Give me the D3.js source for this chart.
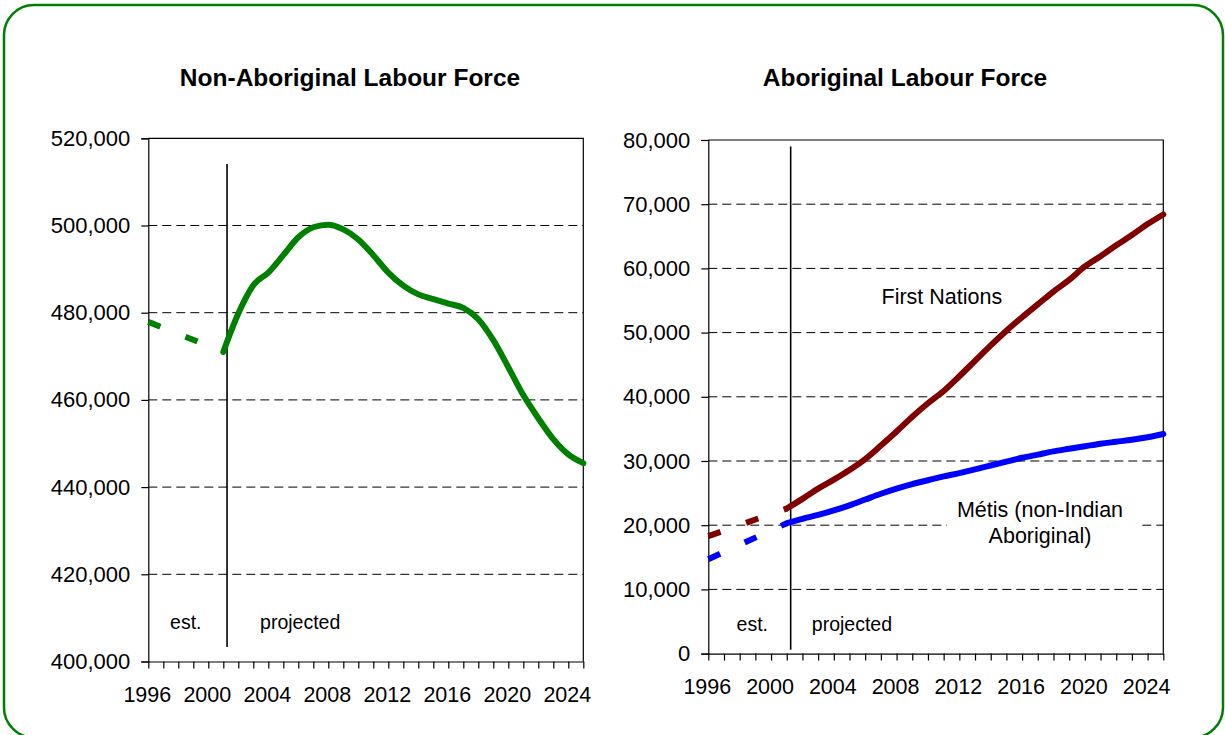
<!DOCTYPE html>
<html>
<head>
<meta charset="utf-8">
<script src="https://cdn.jsdelivr.net/npm/d3@7"></script>
<style>
  body { margin: 0; background: #fff; }
  svg { display: block; }
  text { font-family: "Liberation Sans", Arial, Helvetica, sans-serif; fill: #000; }
</style>
</head>
<body>
<svg id="chart" width="1225" height="735"></svg>
<script>
// ---- data ----
const axisYears = [1996,1997,1998,1999,2000,2001,2002,2003,2004,2005,2006,2007,2008,2009,2010,
                   2011,2012,2013,2014,2015,2016,2017,2018,2019,2020,2021,2022,2023,2024,2025];
const yearLabels = [1996, 2000, 2004, 2008, 2012, 2016, 2020, 2024];
const estYears = [1996, 2001];
const projYears = [2001,2002,2003,2004,2005,2006,2007,2008,2009,2010,2011,2012,2013,
                   2014,2015,2016,2017,2018,2019,2020,2021,2022,2023,2024,2025];

// Non-Aboriginal labour force
const nonAbEst = [477900, 471000];
const nonAbProj = [471000, 479800, 486300, 489200, 493200, 497300, 499600, 500200, 499100,
                   496800, 493200, 489200, 486200, 484200, 483100, 482100, 481100, 478500,
                   473700, 467500, 461100, 455800, 451000, 447500, 445500];
const nonAbTicks = [400000, 420000, 440000, 460000, 480000, 500000, 520000];

// Aboriginal labour force
const fnEst = [18300, 22600];
const fnProj = [22600, 24100, 25700, 27100, 28600, 30300, 32400, 34600, 36900, 39000,
                40900, 43200, 45600, 48000, 50300, 52400, 54400, 56400, 58200, 60300,
                61900, 63600, 65200, 66900, 68400];
const metisEst = [14700, 20300];
const metisProj = [20300, 21000, 21600, 22300, 23100, 24000, 24900, 25700, 26400, 27000,
                   27600, 28100, 28700, 29300, 29900, 30500, 31000, 31500, 31900, 32300,
                   32700, 33000, 33300, 33700, 34200];
const abTicks = [0, 10000, 20000, 30000, 40000, 50000, 60000, 70000, 80000];

const dividerYear = 2001.25;

const GREEN = "#008000", DARKRED = "#800000", BLUE = "#0000ff";

const svg = d3.select("#chart");

// outer rounded frame (runs slightly past the bottom edge)
svg.append("rect")
  .attr("x", 4).attr("y", 5).attr("width", 1219).attr("height", 732.5)
  .attr("rx", 30).attr("ry", 30)
  .attr("fill", "none").attr("stroke", GREEN).attr("stroke-width", 2.5);

function panel(opt) {
  const x = d3.scaleLinear().domain([1996, 2025]).range(opt.xr);
  const y = d3.scaleLinear().domain(opt.yd).range(opt.yr);
  const g = svg.append("g");

  // title
  g.append("text")
    .attr("x", opt.titleX).attr("y", 86)
    .attr("text-anchor", "middle")
    .attr("font-size", 24.5).attr("font-weight", "bold")
    .text(opt.title);

  // dashed gridlines
  g.append("g").selectAll("line")
    .data(opt.ticks.slice(1, -1))
    .join("line")
    .attr("x1", opt.xr[0]).attr("x2", opt.xr[1])
    .attr("y1", d => y(d)).attr("y2", d => y(d))
    .attr("stroke", "#000").attr("stroke-width", 1)
    .attr("stroke-dasharray", "9,5");

  // plot frame (top and right)
  g.append("path")
    .attr("d", `M${opt.xr[0]},${y(opt.yd[1])}H${opt.xr[1]}V${y(opt.yd[0])}`)
    .attr("fill", "none").attr("stroke", "#000").attr("stroke-width", 1.2);

  // y axis
  const ya = g.append("g")
    .attr("transform", `translate(${opt.xr[0]},0)`)
    .call(d3.axisLeft(y).tickValues(opt.ticks).tickSize(7).tickPadding(11)
      .tickFormat(d3.format(",")));
  ya.selectAll("text").attr("font-size", 22).attr("font-family", null).attr("fill", "#000");
  ya.selectAll("line, path").attr("stroke", "#000").attr("stroke-width", 1.2);

  // x axis
  const xa = g.append("g")
    .attr("transform", `translate(0,${y(opt.yd[0])})`)
    .call(d3.axisBottom(x).tickValues(axisYears).tickSize(7).tickPadding(18)
      .tickSizeOuter(0)
      .tickFormat(d => yearLabels.includes(d) ? String(d) : ""));
  xa.selectAll("text").attr("font-size", 21.5).attr("font-family", null)
    .attr("fill", "#000").attr("dx", -1.5);
  xa.selectAll("line, path").attr("stroke", "#000").attr("stroke-width", 1.2);

  // est. / projected divider
  g.append("line")
    .attr("x1", x(dividerYear)).attr("x2", x(dividerYear))
    .attr("y1", y(opt.divTop)).attr("y2", y(opt.divBottom))
    .attr("stroke", "#000").attr("stroke-width", 1.6);

  const base = y(opt.yd[0]);
  g.append("text").attr("x", x(opt.estAt)).attr("y", base - opt.noteLift)
    .attr("font-size", 19.5).text("est.");
  g.append("text").attr("x", x(opt.projAt)).attr("y", base - opt.noteLift)
    .attr("font-size", 19.5).text("projected");

  const line = d3.line().x(d => x(d[0])).y(d => y(d[1]));
  const smooth = d3.line().x(d => x(d[0])).y(d => y(d[1])).curve(d3.curveMonotoneX);

  opt.series.forEach(s => {
    g.append("path")
      .datum(estYears.map((yr, i) => [yr, s.est[i]]))
      .attr("d", line)
      .attr("fill", "none").attr("stroke", s.color).attr("stroke-width", s.width)
      .attr("stroke-dasharray", "13,27");
    g.append("path")
      .datum(projYears.map((yr, i) => [yr, s.proj[i]]))
      .attr("d", smooth)
      .attr("fill", "none").attr("stroke", s.color).attr("stroke-width", s.width)
      .attr("stroke-linecap", "round").attr("stroke-linejoin", "round");
  });

  return { g, x, y };
}

// left panel
panel({
  title: "Non-Aboriginal Labour Force", titleX: 350,
  xr: [148.3, 583.3], yd: [400000, 520000], yr: [661.5, 138.3],
  ticks: nonAbTicks, divTop: 514100, divBottom: 403300, noteLift: 33,
  estAt: 1997.45, projAt: 2003.45,
  series: [{ est: nonAbEst, proj: nonAbProj, color: GREEN, width: 6 }]
});

// right panel
const right = panel({
  title: "Aboriginal Labour Force", titleX: 905,
  xr: [708.3, 1163.3], yd: [0, 80000], yr: [653.6, 140],
  ticks: abTicks, divTop: 79000, divBottom: 600, noteLift: 23,
  estAt: 1997.8, projAt: 2002.6,
  series: [
    { est: fnEst, proj: fnProj, color: DARKRED, width: 6 },
    { est: metisEst, proj: metisProj, color: BLUE, width: 6 }
  ]
});

// series labels
right.g.append("text")
  .attr("x", 881.5).attr("y", 303.5)
  .attr("font-size", 21.5).text("First Nations");

const metisLabel = right.g.append("g");
metisLabel.append("rect")
  .attr("x", 947).attr("y", 497).attr("width", 191).attr("height", 53)
  .attr("fill", "#fff");
metisLabel.append("text")
  .attr("x", 1040).attr("y", 517).attr("text-anchor", "middle")
  .attr("font-size", 21.5).text("Métis (non-Indian");
metisLabel.append("text")
  .attr("x", 1040).attr("y", 543).attr("text-anchor", "middle")
  .attr("font-size", 21.5).text("Aboriginal)");
</script>
</body>
</html>
